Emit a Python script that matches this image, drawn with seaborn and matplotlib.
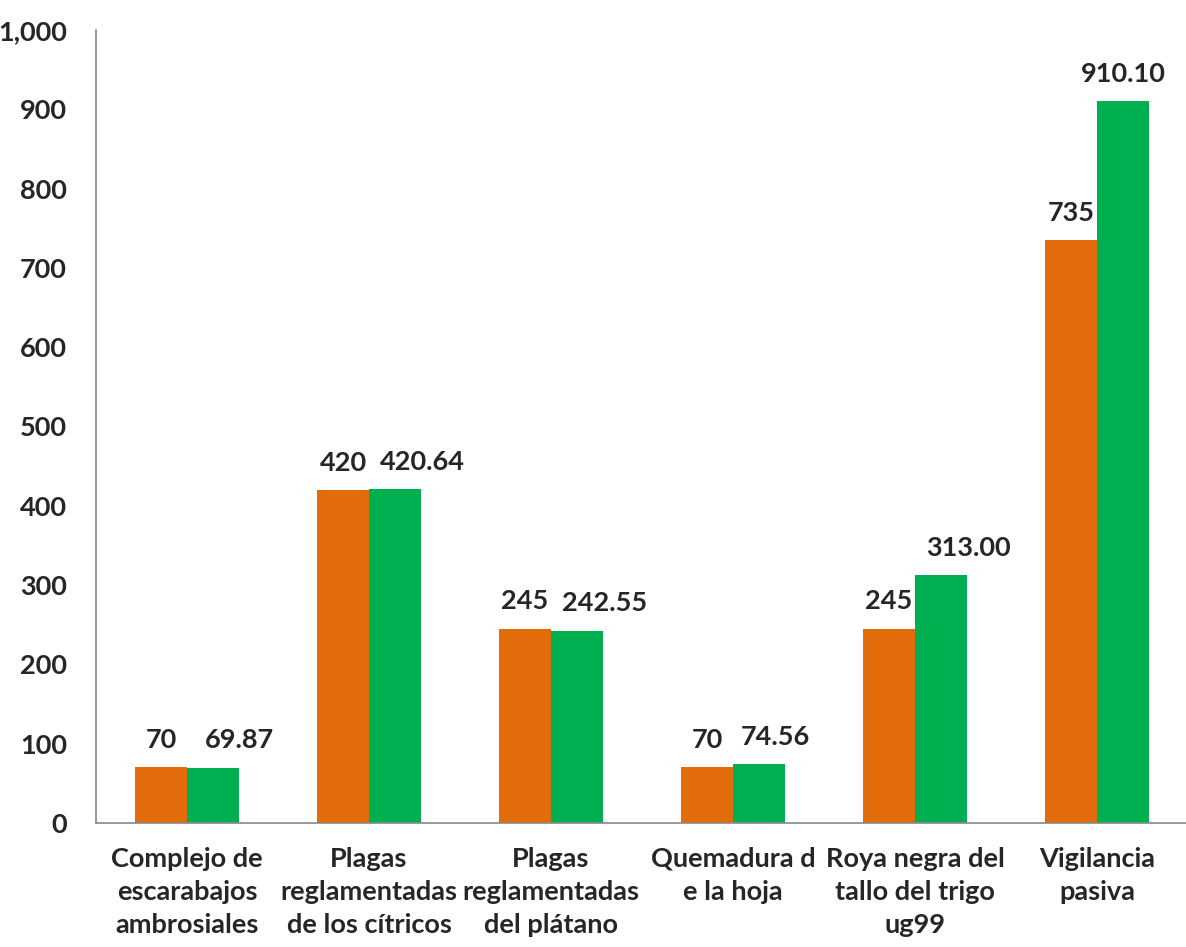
import pandas as pd
import numpy as np
import matplotlib.pyplot as plt
import seaborn as sns

# categorias y valores
categorias = [
    'Complejo de\nescarabajos\nambrosiales',
    'Plagas\nreglamentadas\nde los cítricos',
    'Plagas\nreglamentadas\ndel plátano',
    'Quemadura d\ne la hoja',
    'Roya negra del\ntallo del trigo\nug99',
    'Vigilancia\npasiva',
]
programado = [70, 420, 245, 70, 245, 735]
alcanzado = [69.87, 420.64, 242.55, 74.56, 313.00, 910.10]
etiquetas_prog = ['70', '420', '245', '70', '245', '735']
etiquetas_alc = ['69.87', '420.64', '242.55', '74.56', '313.00', '910.10']

sns.set_style('white')
plt.rcParams['font.family'] = ['Lato', 'DejaVu Sans']
plt.rcParams['font.weight'] = 'bold'

df = pd.DataFrame({
    'categoria': categorias * 2,
    'serie': ['Programado'] * 6 + ['Alcanzado'] * 6,
    'valor': programado + alcanzado,
})

W, H = 1186, 947
fig = plt.figure(figsize=(W / 100, H / 100), dpi=100)
ax = fig.add_axes([96 / W, (H - 823) / H, (1188 - 96) / W, (823 - 30) / H])

sns.barplot(data=df, x='categoria', y='valor', hue='serie',
            hue_order=['Programado', 'Alcanzado'],
            palette=['#E36C0A', '#00B050'], width=0.57, gap=0,
            saturation=1, legend=False, ax=ax, edgecolor='none')

fs = 19.5
pad = 11
ax.bar_label(ax.containers[0], labels=etiquetas_prog, padding=pad,
             fontsize=fs, fontweight='bold')
# las etiquetas verdes estan corridas a la derecha en el original (en puntos)
desplaz = [19, 19.5, 20, 12, 20, 0]
anns = ax.bar_label(ax.containers[1], labels=etiquetas_alc, padding=pad,
                    fontsize=fs, fontweight='bold')
for a, dx in zip(anns, desplaz):
    a.xyann = (dx, pad)

ax.set_ylim(0, 1000)
ax.set_xlim(-0.5, 5.5)
ax.set_yticks(np.arange(0, 1001, 100))
ax.set_yticklabels([f'{v:,}' for v in range(0, 1001, 100)], fontsize=fs, fontweight='bold')
ax.set_xticks(range(6))
ax.set_xticklabels(categorias, fontsize=fs, fontweight='bold', linespacing=1.45)
ax.set_xticks(np.arange(-0.5, 6, 1), minor=True)
ax.tick_params(axis='x', which='major', length=0, pad=17)
ax.tick_params(axis='x', which='minor', length=7, color='#888888', width=1.2, direction='out')
ax.tick_params(axis='y', length=7, color='#888888', width=1.2, direction='out', pad=14)
ax.set_xlabel('')
ax.set_ylabel('')

for s in ['top', 'right']:
    ax.spines[s].set_visible(False)
for s in ['left', 'bottom']:
    ax.spines[s].set_color('#888888')
    ax.spines[s].set_linewidth(1.2)

fig.savefig('out.png', dpi=100)
